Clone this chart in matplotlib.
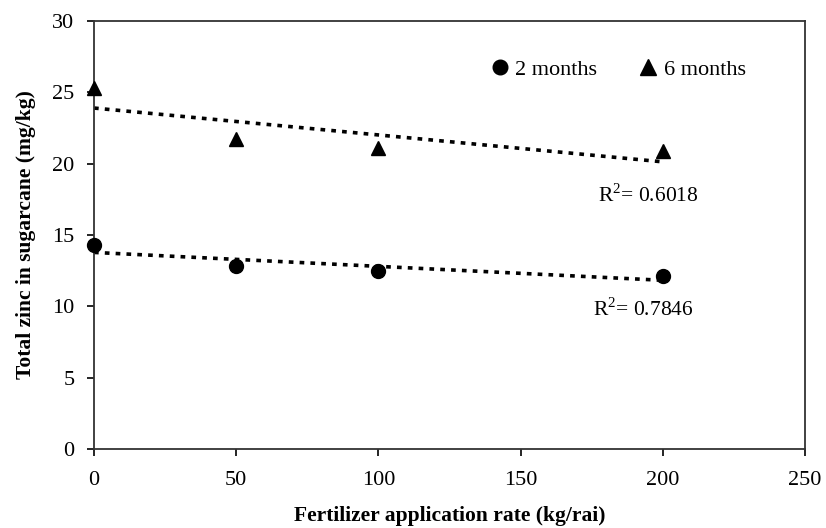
import matplotlib
matplotlib.use("Agg")
import matplotlib.pyplot as plt
import numpy as np

rate = [0, 50, 100, 200]
zn_2months = [14.3, 12.8, 12.5, 12.1]
zn_6months = [25.3, 21.7, 21.1, 20.9]
r2_labels = ["R$^2$= 0.7846", "R$^2$= 0.6018"]

plt.rcParams['font.family'] = ['Liberation Serif', 'DejaVu Serif']
plt.rcParams['mathtext.fontset'] = 'custom'
plt.rcParams['mathtext.rm'] = 'Liberation Serif'

fig = plt.figure(figsize=(8.26, 5.28), dpi=100)
ax = fig.add_axes([0.1138, 0.1496, 0.8608, 0.8106])

x = np.array(rate, dtype=float)
for ys, mk, lab in [(zn_2months, 'o', '2 months'), (zn_6months, '^', '6 months')]:
    ys = np.array(ys)
    ax.plot(x, ys, linestyle='none', marker=mk, color='black', markersize=10 if mk == 'o' else 10.5,
            label=lab, clip_on=False, zorder=3)
    p = np.polyfit(x, ys, 1)
    xx = np.array([0, 200])
    ax.plot(xx, np.polyval(p, xx), color='black', lw=2.6, dashes=(1.3, 1.7), zorder=2)

ax.text(193, 9.75, r2_labels[0], ha='center', va='center', fontsize=15.5)
ax.text(195, 17.8, r2_labels[1], ha='center', va='center', fontsize=15.5)

ax.set_xlim(0, 250)
ax.set_ylim(0, 30)
ax.set_xticks(range(0, 251, 50))
ax.set_yticks(range(0, 31, 5))
ax.tick_params(axis='x', direction='out', length=5, width=1.2, labelsize=16, colors='black', pad=11)
ax.tick_params(axis='y', direction='out', length=5, width=1.2, labelsize=16, colors='black', pad=9)
for s in ax.spines.values():
    s.set_linewidth(1.3)
    s.set_color('#333333')

ax.set_xlabel('Fertilizer application rate (kg/rai)', fontsize=15.5, fontweight='bold', labelpad=11)
ax.set_ylabel('Total zinc in sugarcane (mg/kg)', fontsize=15.5, fontweight='bold', labelpad=12)

leg = ax.legend(loc='upper right', bbox_to_anchor=(0.945, 0.958), ncol=2, frameon=False, fontsize=16,
                handletextpad=0.1, columnspacing=1.7, handlelength=1.2, markerscale=1.05)

fig.savefig('out.png', dpi=100, facecolor='white')
